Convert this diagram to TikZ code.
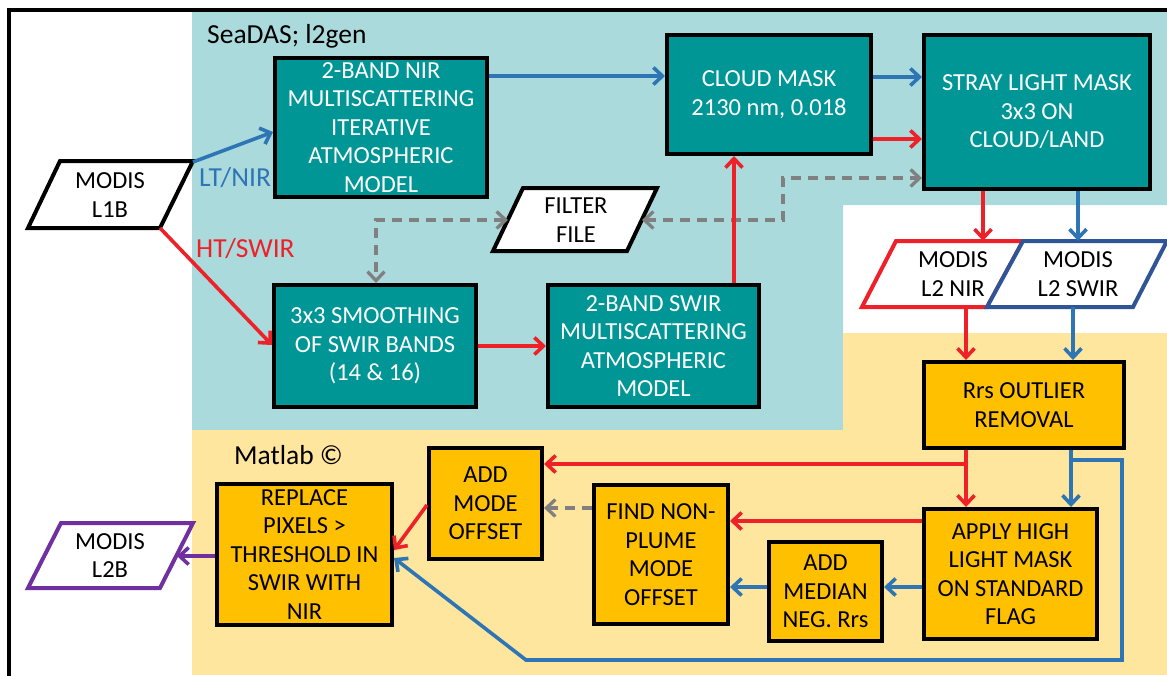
\documentclass[tikz,border=0pt]{standalone}
\usepackage{fontspec}
\setmainfont{Carlito}
\usetikzlibrary{arrows.meta}
\definecolor{bgteal}{RGB}{171,218,220}
\definecolor{bgyel}{RGB}{255,230,158}
\definecolor{boxteal}{RGB}{0,150,150}
\definecolor{boxyel}{RGB}{255,192,0}
\definecolor{cblue}{RGB}{46,117,182}
\definecolor{cred}{RGB}{238,32,40}
\definecolor{cgray}{RGB}{128,128,128}
\definecolor{cpurple}{RGB}{112,48,160}
\definecolor{cdblue}{RGB}{47,85,151}
\begin{document}
\begin{tikzpicture}[x=1pt,y=-1pt,
  >={Straight Barb[length=9pt,width=17pt]},
  boxfont/.style={font=\fontsize{24.5}{28.5}\selectfont},
  tbox/.style={boxfont, draw=black, line width=4pt, fill=boxteal, text=white, align=center, inner sep=1pt},
  ybox/.style={boxfont, draw=black, line width=4pt, fill=boxyel, text=black, align=center, inner sep=1pt},
  ptxt/.style={boxfont, align=center, inner sep=0pt},
  pg/.style={line width=4pt, fill=white, line join=miter},
  lbl/.style={anchor=west, inner sep=0pt, font=\fontsize{27.5}{30}\selectfont},
  conn/.style={line width=3.6pt, ->},
  bconn/.style={conn, draw=cblue},
  rconn/.style={conn, draw=cred},
  gconn/.style={line width=3.3pt, draw=cgray, dash pattern=on 10pt off 7pt},
]
\useasboundingbox (0,0) rectangle (1167,675);
\clip (0,0) rectangle (1167,675);
% backgrounds
\fill[white] (0,0) rectangle (1167,675);
\fill[bgteal] (192,12) -- (1167,12) -- (1167,205) -- (843,205) -- (843,430) -- (192,430) -- cycle;
\fill[bgyel] (192,430) -- (843,430) -- (843,333) -- (1167,333) -- (1167,675) -- (192,675) -- cycle;
\draw[line width=3.2pt] (9,10) rectangle (1200,700);

% labels
\node[lbl] (seadas) at (207,36) {SeaDAS; l2gen};
\node[lbl] (matlab) at (234,455) {Matlab ©};
\node[lbl, text=cblue] (ltnir) at (199,178) {LT/NIR};
\node[lbl, text=cred] (htswir) at (196,249) {HT/SWIR};

% process boxes
\node[tbox, minimum width=212pt, minimum height=139pt] (nir) at (381,127.5)
  {2-BAND NIR\\MULTISCATTERING\\ITERATIVE\\ATMOSPHERIC\\MODEL};
\node[tbox, minimum width=204pt, minimum height=119pt] (cloud) at (769,94.5)
  {CLOUD MASK\\2130 nm, 0.018};
\node[tbox, minimum width=226pt, minimum height=154pt] (stray) at (1037,112)
  {STRAY LIGHT MASK\\3x3 ON\\CLOUD/LAND};
\node[tbox, minimum width=202pt, minimum height=122pt] (smooth) at (375,346)
  {3x3 SMOOTHING\\OF SWIR BANDS\\(14 \& 16)};
\node[tbox, minimum width=211pt, minimum height=122pt] (swir) at (653.5,346)
  {2-BAND SWIR\\MULTISCATTERING\\ATMOSPHERIC\\MODEL};
\node[ybox, minimum width=200pt, minimum height=86pt] (rrs) at (1024,405)
  {Rrs OUTLIER\\REMOVAL};
\node[ybox, minimum width=173pt, minimum height=130pt] (apply) at (1010.5,574)
  {APPLY HIGH\\LIGHT MASK\\ON STANDARD\\FLAG};
\node[ybox, minimum width=113pt, minimum height=99pt] (median) at (825.5,591.5)
  {ADD\\MEDIAN\\NEG. Rrs};
\node[ybox, minimum width=134pt, minimum height=139pt] (find) at (661,554.5)
  {FIND NON-\\PLUME\\MODE\\OFFSET};
\node[ybox, minimum width=113pt, minimum height=111pt] (addmode) at (485.5,503.5)
  {ADD\\MODE\\OFFSET};
\node[ybox, minimum width=175pt, minimum height=141pt] (replace) at (304.5,554.5)
  {REPLACE\\PIXELS >\\THRESHOLD IN\\SWIR WITH\\NIR};

% data (parallelograms)
\draw[pg, draw=black] (28,228) -- (160,228) -- (193,161) -- (60,161) -- cycle;
\node[ptxt, minimum height=67pt] (l1b) at (110,195) {MODIS\\L1B};
\coordinate (l1bTR) at (193,162);
\coordinate (l1bBR) at (160,228);

\draw[pg, draw=black] (493,251) -- (627,251) -- (657,188) -- (523,188) -- cycle;
\node[ptxt, minimum height=63pt] (filter) at (576,220) {FILTER\\FILE};
\coordinate (ffL) at (508,220);
\coordinate (ffR) at (642,220);

\draw[pg, draw=cred] (862,307) -- (987,307) -- (1023,241) -- (896,241) -- cycle;
\draw[pg, draw=cdblue] (987,307) -- (1133,307) -- (1167,241) -- (1023,241) -- cycle;
\node[ptxt, minimum height=66pt] (l2nir) at (953,274) {MODIS\\L2 NIR};
\node[ptxt, minimum height=66pt] (l2swir) at (1078,274) {MODIS\\L2 SWIR};

\draw[pg, draw=cpurple] (28,588) -- (160,588) -- (193,523) -- (61,523) -- cycle;
\node[ptxt, minimum height=65pt] (l2b) at (110,555.5) {MODIS\\L2B};
\coordinate (l2bR) at (177,556);

% dashed gray connectors
\draw[gconn, <->] (ffL) -| (smooth.north -| 376,0);
\draw[gconn, <->] (ffR) -- (783,220) |- (stray.west |- 0,178);
\draw[gconn, ->] (find.west |- 0,508) -- (addmode.east |- 0,508);

% SeaDAS connectors
\draw[bconn] (l1bTR) -- (nir.west |- 0,132);
\draw[rconn] (l1bBR) -- (smooth.west |- 0,345);
\draw[bconn] (nir.east |- 0,76) -- (cloud.west |- 0,76);
\draw[bconn] (cloud.east |- 0,77) -- (stray.west |- 0,77);
\draw[rconn] (cloud.east |- 0,139) -- (stray.west |- 0,139);
\draw[rconn] (smooth.east |- 0,346) -- (swir.west |- 0,346);
\draw[rconn] (swir.north -| 734,0) -- (cloud.south -| 734,0);
\draw[rconn] (stray.south -| 983,0) -- (l2nir.north -| 983,0);
\draw[bconn] (stray.south -| 1078,0) -- (l2swir.north -| 1078,0);

% Matlab connectors
\draw[rconn] (l2nir.south -| 966,0) -- (rrs.north -| 966,0);
\draw[bconn] (l2swir.south -| 1073,0) -- (rrs.north -| 1073,0);
\draw[rconn] (rrs.south -| 966,0) -- (apply.north -| 966,0);
\draw[rconn] (rrs.south -| 966,0) |- (addmode.east |- 0,464);
\draw[bconn] (rrs.south -| 1071,0) -- (apply.north -| 1071,0);
\draw[bconn, line join=miter] (rrs.south -| 1071,0) -- (1071,460) -- (1122,460) -- (1122,660) -- (526,660) -- (replace.east |- 0,558);
\draw[rconn] (apply.west |- 0,521) -- (find.east |- 0,521);
\draw[bconn] (apply.west |- 0,587) -- (median.east |- 0,587);
\draw[bconn] (median.west |- 0,587) -- (find.east |- 0,587);
\draw[rconn] (addmode.west |- 0,505) -- (replace.east |- 0,550);
\draw[conn, draw=cpurple] (replace.west |- 0,556) -- (l2bR);
\end{tikzpicture}
\end{document}
